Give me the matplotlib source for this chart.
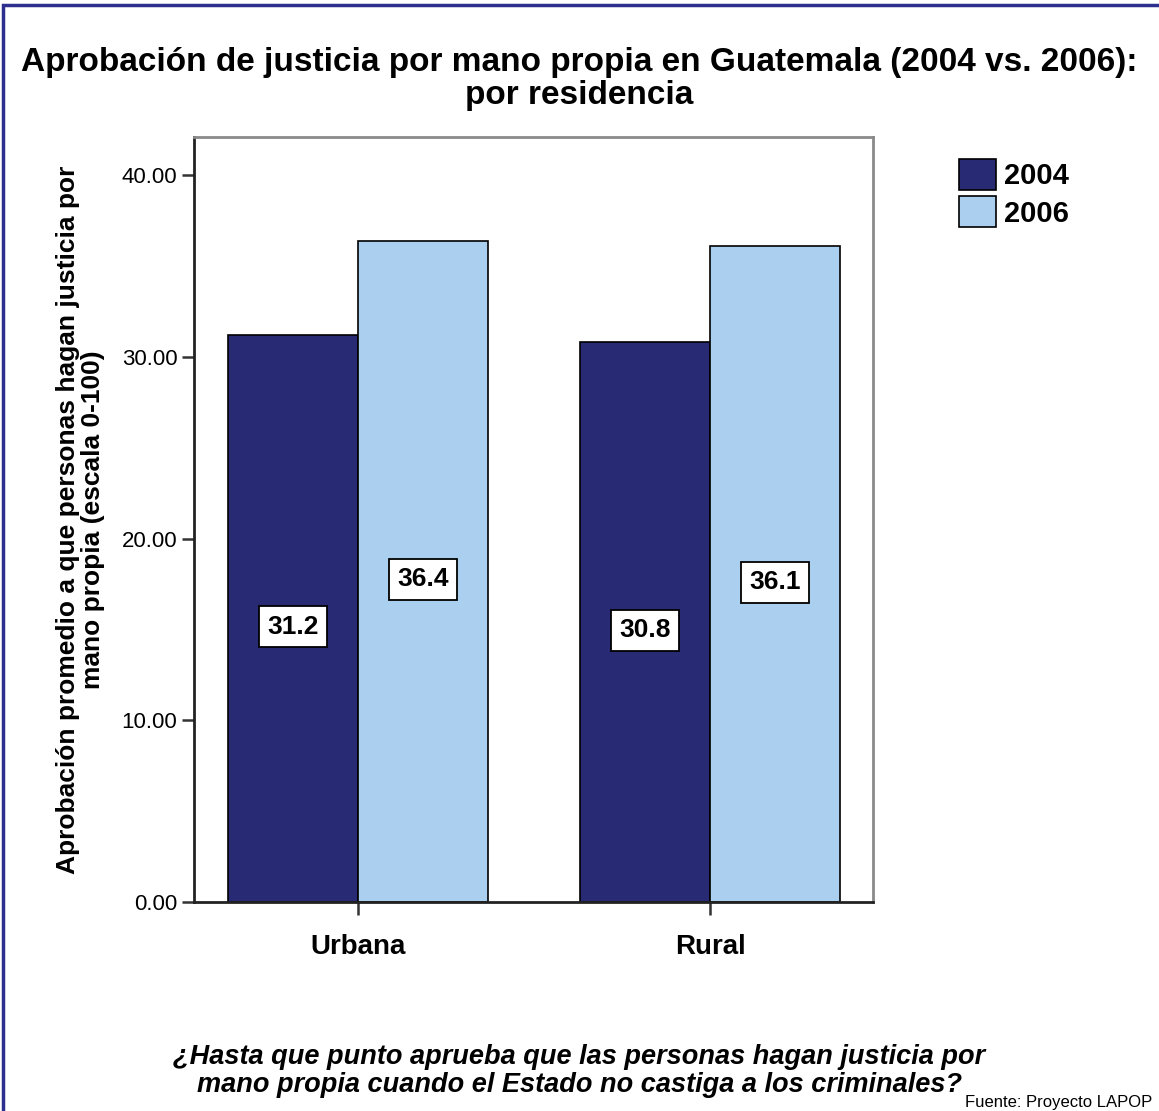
#!/usr/bin/env python3
"""Aprobación de justicia por mano propia en Guatemala, 2004 vs 2006, por residencia."""

import matplotlib

matplotlib.use("Agg")
import matplotlib.pyplot as plt
import numpy as np
from matplotlib.patches import Rectangle

categories = ["Urbana", "Rural"]
years = ["2004", "2006"]
values_2004 = [31.2, 30.8]
values_2006 = [36.4, 36.1]
ytick_values = [0, 10, 20, 30, 40]

DARK = "#282a73"
LIGHT = "#abcfee"
NARROW = ["Liberation Sans Narrow", "DejaVu Sans Condensed", "Liberation Sans", "DejaVu Sans"]
WIDE = ["Liberation Sans", "DejaVu Sans"]

fig = plt.figure(figsize=(11.59, 11.11), dpi=100)

# navy frame around the whole picture (top and left visible)
fig.patches.append(Rectangle((3 / 1159, -0.05), 1.2, 1 - 5 / 1111 + 0.05,
                             transform=fig.transFigure, fill=False,
                             edgecolor="#2e2f8f", linewidth=2.5))

ax = fig.add_axes([194 / 1159, 209 / 1111, 679 / 1159, 765 / 1111])

x = np.arange(len(categories))
w = 0.37
b1 = ax.bar(x - w / 2, values_2004, w, color=DARK, edgecolor="black", linewidth=1.2, label=years[0])
b2 = ax.bar(x + w / 2, values_2006, w, color=LIGHT, edgecolor="black", linewidth=1.2, label=years[1])

for bars, vals in ((b1, values_2004), (b2, values_2006)):
    for rect, v in zip(bars, vals):
        ax.text(rect.get_x() + rect.get_width() / 2, v / 2 - 0.45, f"{v:.1f}",
                ha="center", va="center", fontsize=19, fontweight="bold", family=NARROW,
                bbox=dict(boxstyle="square,pad=0.32", facecolor="white", edgecolor="black", linewidth=1.3))

ax.set_xlim(-0.466, 1.463)
ax.set_ylim(0, 42.1)
ax.set_xticks(x)
ax.set_xticklabels(categories, fontsize=20, fontweight="bold", family=NARROW)
ax.set_yticks(ytick_values)
ax.set_yticklabels([f"{v:.2f}" for v in ytick_values], fontsize=16, family=WIDE)
ax.tick_params(axis="both", direction="out", length=9, width=1.8, color="#333333")
ax.tick_params(axis="x", pad=14)
ax.tick_params(axis="y", pad=3)

for side in ("left", "bottom"):
    ax.spines[side].set_linewidth(2)
    ax.spines[side].set_color("#222222")
for side in ("top", "right"):
    ax.spines[side].set_linewidth(2)
    ax.spines[side].set_color("#8a8a8a")

ax.set_ylabel("Aprobación promedio a que personas hagan justicia por\nmano propia (escala 0-100)",
              fontsize=19, fontweight="bold", family=NARROW, linespacing=1.05, labelpad=12)

fig.text(0.5, 1 - 79 / 1111, "Aprobación de justicia por mano propia en Guatemala (2004 vs. 2006):\npor residencia",
         ha="center", va="center", fontsize=24, fontweight="bold", family=WIDE, linespacing=1.1)

leg = fig.legend(handles=[b1, b2], labels=years, loc="upper left",
                 bbox_to_anchor=(933 / 1159, 1 - 133 / 1111), frameon=False,
                 prop=dict(family=NARROW, weight="bold", size=21),
                 handlelength=1.25, handleheight=1.25, handletextpad=0.3, labelspacing=0.2)

fig.text(0.5, 1 - 1071 / 1111,
         "¿Hasta que punto aprueba que las personas hagan justicia por\nmano propia cuando el Estado no castiga a los criminales?",
         ha="center", va="center", fontsize=19.5, fontweight="bold", style="italic", family=NARROW,
         linespacing=1.05)
fig.text(965 / 1159, 1 - 1103 / 1111, "Fuente: Proyecto LAPOP", ha="left", va="center",
         fontsize=12, family=NARROW)

fig.savefig("out.png", dpi=100)
